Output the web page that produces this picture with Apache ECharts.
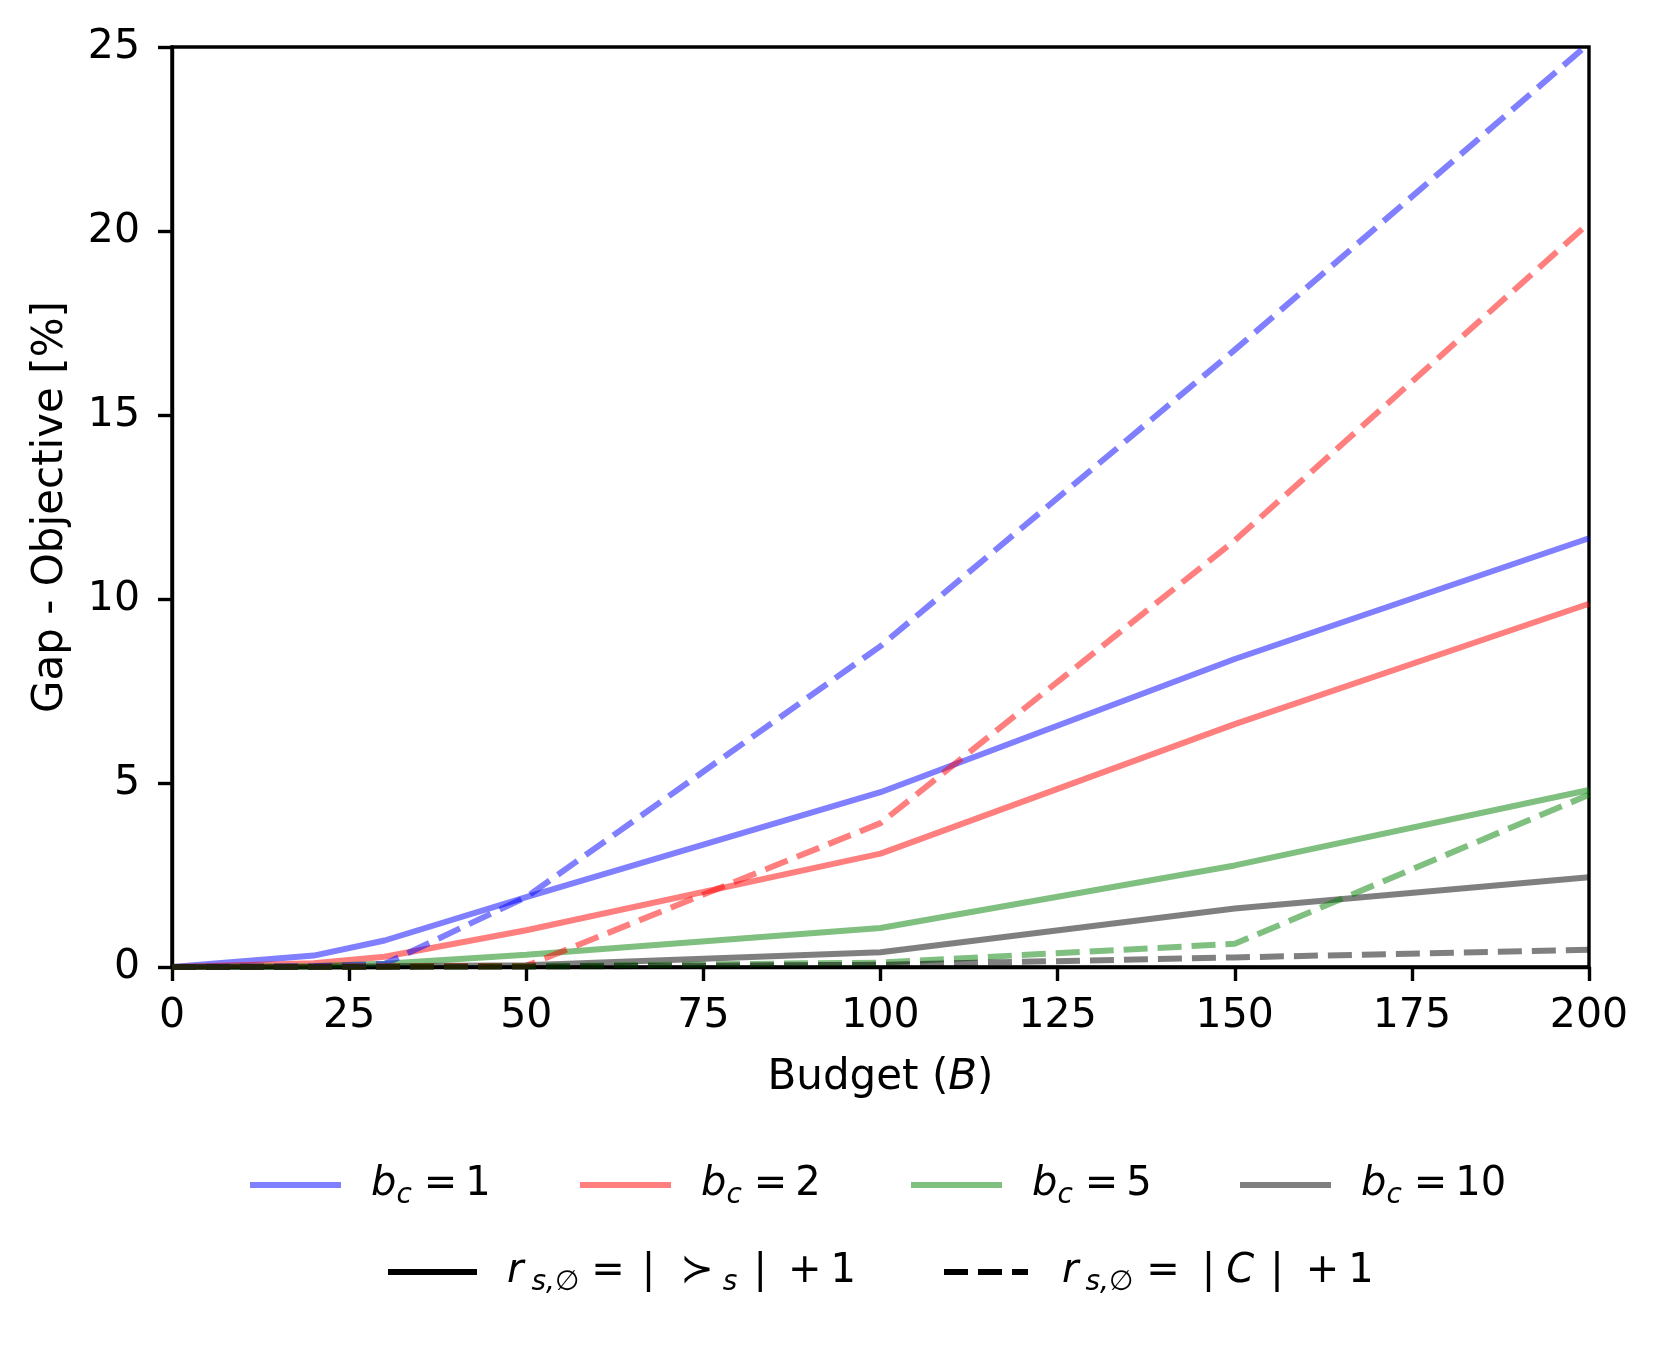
<!DOCTYPE html>
<html>
<head>
<meta charset="utf-8">
<script src="https://cdn.jsdelivr.net/npm/echarts@6/dist/echarts.min.js"></script>
<style>
  html, body { margin: 0; padding: 0; background: #fff; }
  #chart { width: 1661px; height: 1346px; }
</style>
</head>
<body>
<div id="chart"></div>
<script>
// budget values on the x axis
const budgets = [0, 20, 30, 50, 100, 150, 200];

// gap to objective [%], solid: r = |>_s| + 1, dashed: r = |C| + 1
const b1Solid = [0, 0.31, 0.72, 1.9, 4.75, 8.37, 11.65];
const b1Dashed = [0, 0.02, 0.08, 1.9, 8.72, 16.77, 25.1];
const b2Solid = [0, 0.1, 0.28, 1.0, 3.08, 6.6, 9.87];
const b2Dashed = [0, 0.01, 0.02, 0.03, 3.91, 11.59, 20.22];
const b5Solid = [0, 0.03, 0.09, 0.33, 1.06, 2.76, 4.81];
const b5Dashed = [0, 0, 0.01, 0.02, 0.12, 0.63, 4.68];
const b10Solid = [0, 0.01, 0.02, 0.05, 0.4, 1.59, 2.44];
const b10Dashed = [0, 0, 0, 0.01, 0.06, 0.26, 0.47];

const xTicks = [0, 25, 50, 75, 100, 125, 150, 175, 200];
const yTicks = [0, 5, 10, 15, 20, 25];

const FONT = 'DejaVu Sans';
const LW = 6;
const DASH = [24, 10];

const pairs = (ys) => budgets.map((x, i) => [x, ys[i]]);

function lineSeries(name, ys, color, dashed) {
  return {
    name,
    type: 'line',
    data: pairs(ys),
    symbol: 'none',
    clip: true,
    lineStyle: {
      color,
      width: LW,
      opacity: 0.5,
      type: dashed ? DASH : 'solid',
      cap: 'butt',
    },
    itemStyle: { color, opacity: 0.5 },
    emphasis: { disabled: true },
    silent: true,
  };
}

// mathtext-like labels: [text, kind (n = upright, i = italic, s = subscript), left padding]
const rich = {};
function mathLabel(tokens) {
  return tokens
    .map(([text, kind, pad]) => {
      const key = kind + Math.round(pad);
      if (!rich[key]) {
        const sub = kind === 's';
        rich[key] = {
          fontFamily: FONT,
          fontSize: sub ? 28 : 40,
          fontStyle: kind === 'n' ? 'normal' : 'italic',
          lineHeight: sub ? 28 : 50,
          verticalAlign: sub ? 'bottom' : 'middle',
          padding: [0, 0, 0, pad],
          color: '#000',
        };
      }
      return `{${key}|${text}}`;
    })
    .join('');
}

const bLabel = (v) => mathLabel([['b', 'i', 25], ['c', 's', 0], ['=', 'n', 12], [v, 'n', 8]]);

const legendLabels = {
  b1: bLabel('1'),
  b2: bLabel('2'),
  b5: bLabel('5'),
  b10: bLabel('10'),
  rankSolid: mathLabel([
    ['r', 'i', 25], ['s,∅', 's', 8], ['=', 'n', 12], ['|', 'n', 17], ['≻', 'n', 25],
    ['s', 's', 9], ['|', 'n', 16], ['+', 'n', 21], ['1', 'n', 9],
  ]),
  rankDashed: mathLabel([
    ['r', 'i', 29], ['s,∅', 's', 7], ['=', 'n', 13], ['|', 'n', 22], ['C', 'i', 11],
    ['|', 'n', 16], ['+', 'n', 22], ['1', 'n', 9],
  ]),
};

// one legend block per entry so each handle sits where it does in the figure
const legendItems = [
  { name: 'b1', left: 247, top: 1165, width: 91, dashed: false },
  { name: 'b2', left: 577, top: 1165, width: 91, dashed: false },
  { name: 'b5', left: 908, top: 1165, width: 91, dashed: false },
  { name: 'b10', left: 1237, top: 1165, width: 91, dashed: false },
  { name: 'rankSolid', left: 385, top: 1252, width: 89, dashed: false },
  { name: 'rankDashed', left: 941, top: 1252, width: 84, dashed: true },
];

const legends = legendItems.map((item) => ({
  data: [item.name],
  left: item.left,
  top: item.top,
  padding: 0,
  itemWidth: item.width,
  itemHeight: 14,
  selectedMode: false,
  formatter: (name) => legendLabels[name],
  itemStyle: { opacity: 0 },
  lineStyle: { width: LW, type: item.dashed ? DASH : 'solid', cap: 'butt' },
  textStyle: { rich },
}));

const chart = echarts.init(document.getElementById('chart'));

chart.setOption({
  animation: false,
  backgroundColor: '#fff',
  grid: {
    left: 172,
    right: 72,
    top: 47,
    bottom: 379,
    show: true,
    borderColor: '#000',
    borderWidth: 3.4,
  },
  xAxis: {
    type: 'value',
    min: 0,
    max: 200,
    interval: 25,
    name: '{n|Budget (}{i|B}{n|)}',
    nameLocation: 'middle',
    nameGap: 90,
    nameTextStyle: {
      rich: {
        n: { fontFamily: FONT, fontSize: 42, color: '#000' },
        i: { fontFamily: FONT, fontSize: 42, fontStyle: 'italic', color: '#000' },
      },
    },
    axisLine: { lineStyle: { color: '#000', width: 3.4 } },
    axisTick: { length: 14, lineStyle: { color: '#000', width: 3.4 } },
    axisLabel: {
      fontFamily: FONT,
      fontSize: 41,
      color: '#000',
      margin: 29,
      customValues: xTicks,
    },
    splitLine: { show: false },
  },
  yAxis: {
    type: 'value',
    min: 0,
    max: 25,
    interval: 5,
    name: 'Gap - Objective [%]',
    nameLocation: 'middle',
    nameGap: 100,
    nameTextStyle: { fontFamily: FONT, fontSize: 42, color: '#000' },
    axisLine: { lineStyle: { color: '#000', width: 3.4 } },
    axisTick: { length: 14, lineStyle: { color: '#000', width: 3.4 } },
    axisLabel: {
      fontFamily: FONT,
      fontSize: 41,
      color: '#000',
      margin: 32,
      customValues: yTicks,
    },
    splitLine: { show: false },
  },
  legend: legends,
  series: [
    lineSeries('b1', b1Solid, '#0000ff', false),
    lineSeries('b2', b2Solid, '#ff0000', false),
    lineSeries('b5', b5Solid, '#008000', false),
    lineSeries('b10', b10Solid, '#000000', false),
    lineSeries('b1', b1Dashed, '#0000ff', true),
    lineSeries('b2', b2Dashed, '#ff0000', true),
    lineSeries('b5', b5Dashed, '#008000', true),
    lineSeries('b10', b10Dashed, '#000000', true),
    {
      ...lineSeries('rankSolid', [], '#000000', false),
      lineStyle: { color: '#000', width: LW, opacity: 1 },
      itemStyle: { color: '#000', opacity: 1 },
    },
    {
      ...lineSeries('rankDashed', [], '#000000', true),
      lineStyle: { color: '#000', width: LW, opacity: 1, type: DASH },
      itemStyle: { color: '#000', opacity: 1 },
    },
  ],
});
</script>
</body>
</html>
